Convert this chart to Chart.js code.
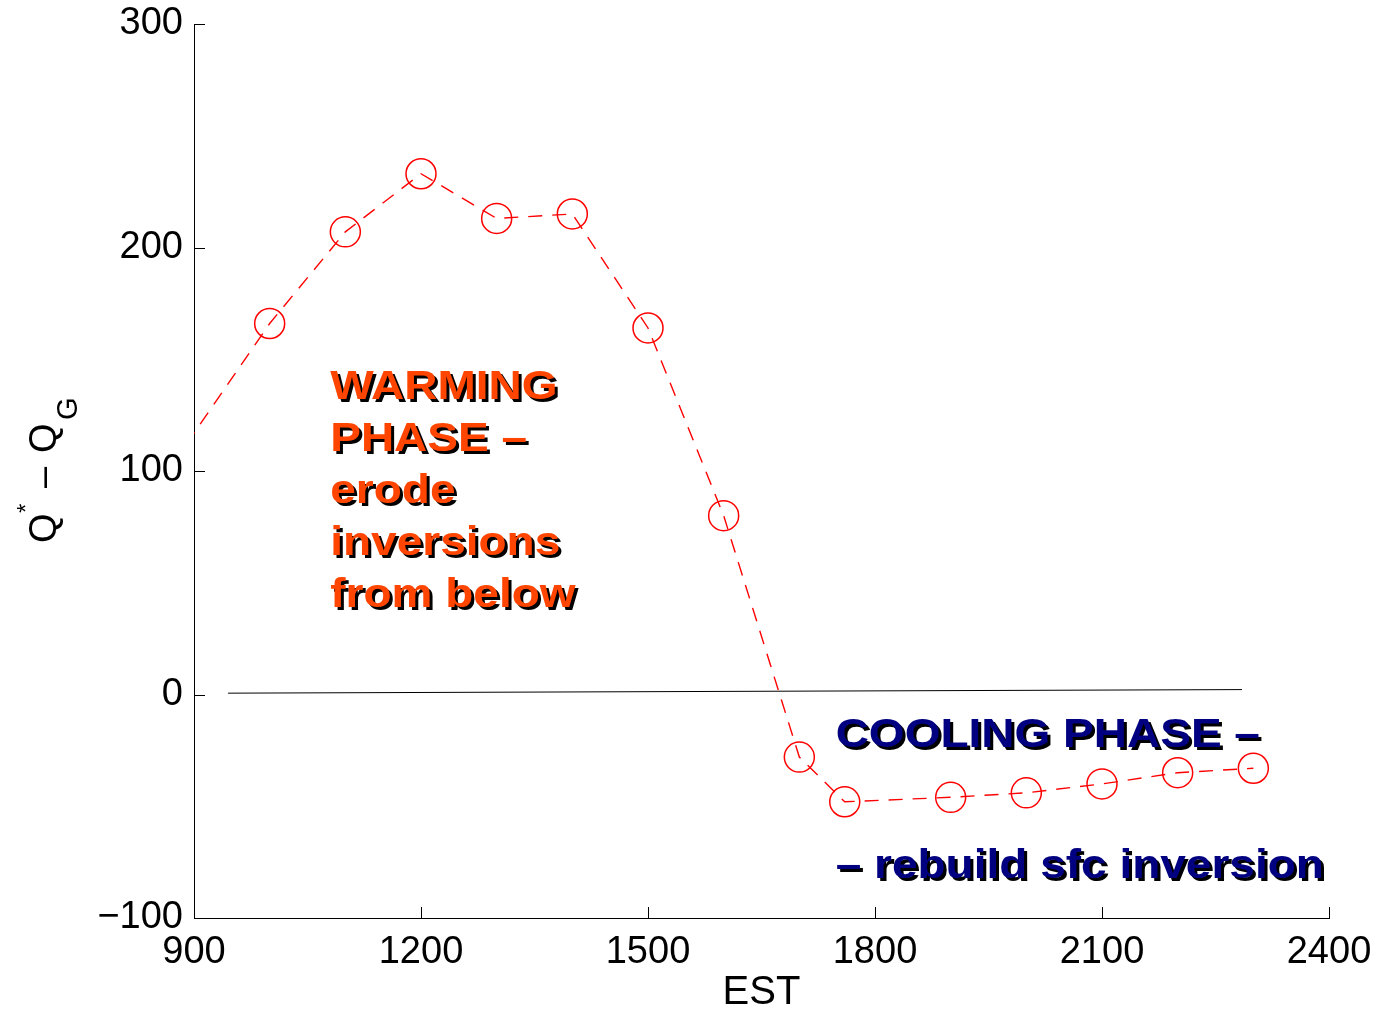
<!DOCTYPE html>
<html>
<head>
<meta charset="utf-8">
<script src="https://cdn.jsdelivr.net/npm/chart.js@4.4.1/dist/chart.umd.min.js"></script>
<style>
    html, body { margin: 0; padding: 0; background: #fff; }
    #wrap { width: 1395px; height: 1009px; position: relative; }
</style>
</head>
<body>
<div id="wrap"><canvas id="fluxChart"></canvas></div>
<script>
// hours (EST) and Q* - Q_G values
const hours = [800, 1000, 1100, 1200, 1300, 1400, 1500, 1600, 1700, 1760, 1900, 2000, 2100, 2200, 2300];
const netFlux = [68, 166, 207, 233, 213, 215, 164, 80, -28, -48, -46, -44, -40, -35, -33];

// hand drawn zero reference line
const zeroLineX = [945, 2285];
const zeroLineY = [0.6, 2.2];

const xTicks = [900, 1200, 1500, 1800, 2100, 2400];
const yTicks = [-100, 0, 100, 200, 300];

const warmingText = ['WARMING', 'PHASE –', 'erode', 'inversions', 'from below'];
const coolingText = ['COOLING PHASE –', '– rebuild sfc inversion'];

const FONT = '"Liberation Sans", Arial, Helvetica, sans-serif';

// MATLAB style ticks pointing into the plot
const inwardTicks = {
    id: 'inwardTicks',
    afterDraw(chart) {
        const {ctx, chartArea, scales: {x, y}} = chart;
        ctx.save();
        ctx.strokeStyle = '#000';
        ctx.lineWidth = 1;
        ctx.beginPath();
        x.ticks.forEach(t => {
            const px = Math.round(x.getPixelForValue(t.value)) + 0.5;
            ctx.moveTo(px, chartArea.bottom);
            ctx.lineTo(px, chartArea.bottom - 11);
        });
        y.ticks.forEach(t => {
            const py = Math.round(y.getPixelForValue(t.value)) + 0.5;
            ctx.moveTo(chartArea.left, py);
            ctx.lineTo(chartArea.left + 11, py);
        });
        ctx.stroke();
        ctx.restore();
    }
};

// y label with superscript / subscript: Q* - Q_G
const yTitle = {
    id: 'yTitle',
    afterDraw(chart) {
        const ctx = chart.ctx;
        ctx.save();
        ctx.translate(56, 543);
        ctx.rotate(-Math.PI / 2);
        ctx.fillStyle = '#000';
        ctx.textBaseline = 'alphabetic';
        ctx.font = '38px ' + FONT;
        ctx.fillText('Q', 0, 0);
        ctx.fillText('–', 55, 0);
        ctx.fillText('Q', 90, 0);
        ctx.font = '24px ' + FONT;
        ctx.fillText('*', 30, -22);
        ctx.font = '29px ' + FONT;
        ctx.fillText('G', 123, 21);
        ctx.restore();
    }
};

function drawWide(ctx, text, px, py, color) {
    ctx.save();
    ctx.translate(px, py);
    ctx.scale(1.15, 1);
    ctx.fillStyle = color;
    ctx.fillText(text, 0, 0);
    ctx.restore();
}

const phaseLabels = {
    id: 'phaseLabels',
    afterDatasetsDraw(chart) {
        const {ctx, scales: {x, y}} = chart;
        ctx.save();
        ctx.font = 'bold 40px ' + FONT;
        ctx.textBaseline = 'alphabetic';
        ctx.shadowColor = '#000';
        ctx.shadowOffsetX = 3;
        ctx.shadowOffsetY = 3;
        ctx.shadowBlur = 0;

        const wx = x.getPixelForValue(1080);
        const wy = y.getPixelForValue(132);
        warmingText.forEach((line, i) => drawWide(ctx, line, wx, wy + i * 52, '#FF4500'));

        const cx = x.getPixelForValue(1748);
        drawWide(ctx, coolingText[0], cx, y.getPixelForValue(-23.7), '#000080');
        drawWide(ctx, coolingText[1], cx, y.getPixelForValue(-82.3), '#000080');
        ctx.restore();
    }
};

const ctx = document.getElementById('fluxChart').getContext('2d');

new Chart(ctx, {
    type: 'line',
    data: {
        datasets: [
            {
                data: hours.map((h, i) => ({x: h, y: netFlux[i]})),
                borderColor: '#FF0000',
                borderWidth: 1.4,
                borderDash: [14, 10],
                backgroundColor: 'rgba(0,0,0,0)',
                pointRadius: 15,
                pointBorderWidth: 1.5,
                pointBorderColor: '#FF0000',
                pointBackgroundColor: 'rgba(0,0,0,0)',
                tension: 0,
                fill: false
            },
            {
                data: zeroLineX.map((h, i) => ({x: h, y: zeroLineY[i]})),
                borderColor: '#000',
                borderWidth: 1,
                pointRadius: 0,
                fill: false
            }
        ]
    },
    options: {
        responsive: true,
        maintainAspectRatio: false,
        animation: false,
        layout: {padding: {left: 0, right: 66, top: 24, bottom: 0}},
        plugins: {
            legend: {display: false},
            tooltip: {enabled: false}
        },
        scales: {
            x: {
                type: 'linear',
                min: 900,
                max: 2400,
                afterBuildTicks: s => { s.ticks = xTicks.map(v => ({value: v})); },
                afterFit: s => { s.height = 91; },
                grid: {display: false, drawTicks: false},
                border: {display: true, color: '#000', width: 1},
                ticks: {
                    color: '#000',
                    padding: 12,
                    maxRotation: 0,
                    font: {family: FONT, size: 38},
                    callback: v => String(v)
                },
                title: {
                    display: true,
                    text: 'EST',
                    color: '#000',
                    font: {family: FONT, size: 40, lineHeight: 0.8},
                    padding: {top: 0, bottom: 0}
                }
            },
            y: {
                min: -100,
                max: 300,
                afterBuildTicks: s => { s.ticks = yTicks.map(v => ({value: v})); },
                afterFit: s => {
                    s.width = 194;
                    s.paddingTop = 0;
                    s.paddingBottom = 0;
                },
                grid: {display: false, drawTicks: false},
                border: {display: true, color: '#000', width: 1},
                ticks: {
                    color: '#000',
                    padding: 11,
                    font: {family: FONT, size: 38},
                    callback: v => String(v).replace('-', '\u2212')
                }
            }
        }
    },
    plugins: [inwardTicks, yTitle, phaseLabels]
});
</script>
</body>
</html>
